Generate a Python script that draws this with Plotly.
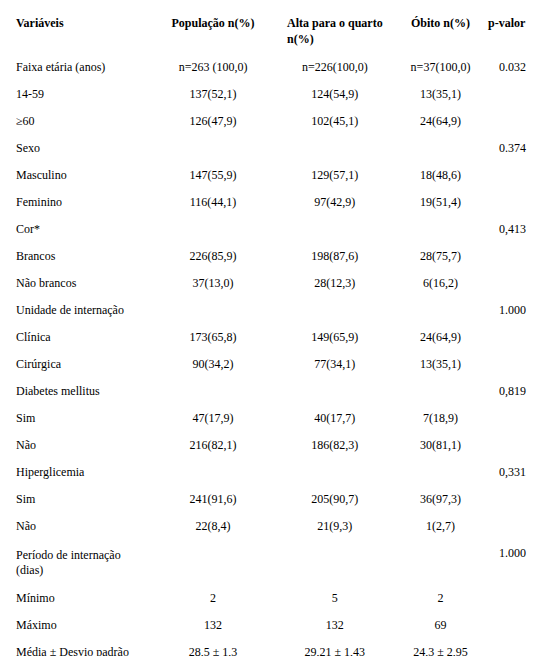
import plotly.graph_objects as go

headers = ["Variáveis", "População n(%)", "Alta para o quarto n(%)", "Óbito n(%)", "p-valor"]
variaveis = ["Faixa etária (anos)", "14-59", "≥60", "Sexo", "Masculino", "Feminino", "Cor*",
             "Brancos", "Não brancos", "Unidade de internação", "Clínica", "Cirúrgica",
             "Diabetes mellitus", "Sim", "Não", "Hiperglicemia", "Sim", "Não",
             "Período de internação (dias)", "Mínimo", "Máximo", "Média ± Desvio padrão", "Mediana"]
populacao = ["n=263 (100,0)", "137(52,1)", "126(47,9)", "", "147(55,9)", "116(44,1)", "",
             "226(85,9)", "37(13,0)", "", "173(65,8)", "90(34,2)", "", "47(17,9)", "216(82,1)",
             "", "241(91,6)", "22(8,4)", "", "2", "132", "28,5 ± 1,3", "22"]
alta = ["n=226(100,0)", "124(54,9)", "102(45,1)", "", "129(57,1)", "97(42,9)", "",
        "198(87,6)", "28(12,3)", "", "149(65,9)", "77(34,1)", "", "40(17,7)", "186(82,3)",
        "", "205(90,7)", "21(9,3)", "", "5", "132", "29,21 ± 1,43", "22,5"]
obito = ["n=37(100,0)", "13(35,1)", "24(64,9)", "", "18(48,6)", "19(51,4)", "",
         "28(75,7)", "6(16,2)", "", "24(64,9)", "13(35,1)", "", "7(18,9)", "30(81,1)",
         "", "36(97,3)", "1(2,7)", "", "2", "69", "24,3 ± 2,95", "20"]
p_valor = ["0.032", "", "", "0.374", "", "", "0,413", "", "", "1.000", "", "", "0,819", "", "",
           "0,331", "", "", "1.000", "", "", "", ""]

font = dict(family="Times New Roman, Liberation Serif, serif", size=12, color="black")

fig = go.Figure(go.Table(
    columnwidth=[148, 125, 125, 92, 50],
    header=dict(values=["<b>%s</b>" % h for h in headers],
                align=["left", "center", "center", "center", "right"],
                fill_color="white", line_color="white", font=font, height=22),
    cells=dict(values=[variaveis, populacao, alta, obito, p_valor],
               align=["left", "center", "center", "center", "right"],
               fill_color="white", line_color="white", font=font, height=27),
))
fig.update_layout(width=540, height=656, margin=dict(l=0, r=14, t=0, b=0),
                  paper_bgcolor="white")
fig.write_html("out.html")
